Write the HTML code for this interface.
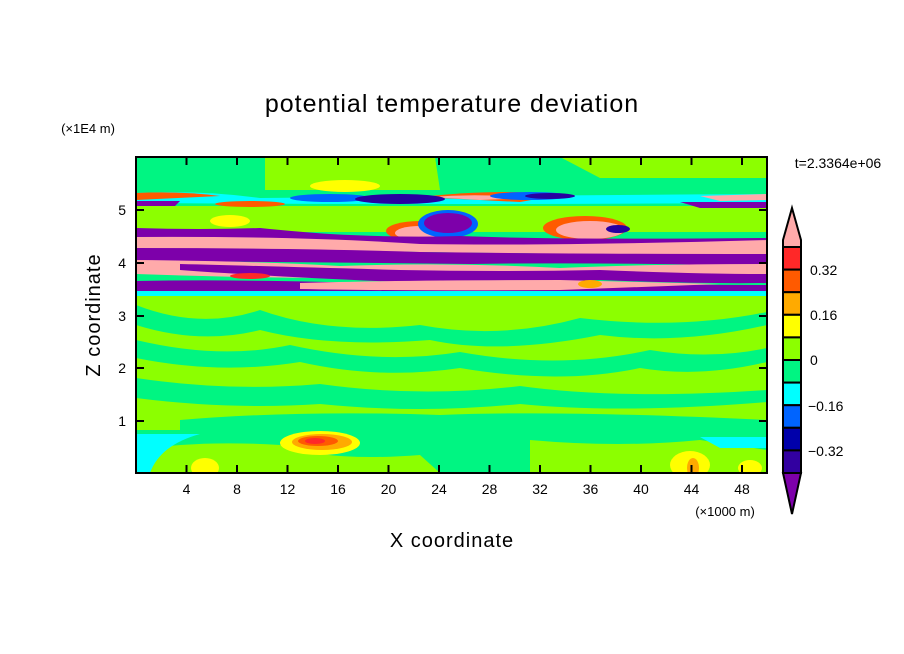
<!DOCTYPE html>
<html><head><style>body{margin:0;background:#fff}svg{display:block}</style></head><body>
<svg width="904" height="654" xmlns="http://www.w3.org/2000/svg" font-family="Liberation Sans, sans-serif">
<defs><clipPath id="c"><rect x="136" y="157" width="631" height="316"/></clipPath></defs>
<g clip-path="url(#c)">
<rect x="136" y="157" width="631" height="316" fill="#00F582"/>
<path d="M265 157 H435 L440 190 H265 Z" fill="#8CFF00"/>
<path d="M560 157 H767 V178 H600 Z" fill="#8CFF00"/>
<path d="M136 206 H767 V232 H136 Z" fill="#8CFF00"/>
<path d="M136 296 H767 V430 H136 Z" fill="#8CFF00"/>
<path d="M136 305 Q200 330 260 310 Q330 335 420 325 Q500 340 580 318 Q680 330 767 312 V325 Q680 345 600 335 Q500 355 430 340 Q330 348 260 330 Q200 345 136 325Z" fill="#00F582"/>
<path d="M136 340 Q220 360 290 345 Q380 365 460 352 Q560 370 650 350 Q710 360 767 348 V362 Q700 378 640 368 Q560 385 460 368 Q380 380 300 362 Q220 375 136 358Z" fill="#00F582"/>
<path d="M136 378 Q230 392 320 384 Q420 398 520 386 Q620 400 767 390 V402 Q620 414 520 404 Q420 414 320 404 Q230 410 136 398Z" fill="#00F582"/>
<path d="M180 420 Q300 410 440 415 Q560 410 767 420 V430 H180Z" fill="#00F582"/>
<path d="M136 432 H767 V473 H136Z" fill="#00F582"/>
<path d="M136 450 Q200 440 280 445 Q330 462 420 455 L440 473 H136Z" fill="#8CFF00"/>
<path d="M530 440 Q620 448 700 440 L767 450 V473 H530Z" fill="#8CFF00"/>
<path d="M136 434 H200 Q160 445 150 473 H136Z" fill="#00FFFF"/>
<path d="M700 437 H767 V448 H720Z" fill="#00FFFF"/>
<ellipse cx="320" cy="443" rx="40" ry="12" fill="#FFFF00"/>
<ellipse cx="322" cy="442" rx="30" ry="8" fill="#FFAA00"/>
<ellipse cx="318" cy="441" rx="20" ry="5" fill="#FF5A00"/>
<ellipse cx="315" cy="441" rx="10" ry="3" fill="#FF2828"/>
<ellipse cx="205" cy="468" rx="14" ry="10" fill="#FFFF00"/>
<ellipse cx="690" cy="465" rx="20" ry="14" fill="#FFFF00"/>
<ellipse cx="693" cy="468" rx="6" ry="10" fill="#FFAA00"/>
<ellipse cx="750" cy="468" rx="12" ry="8" fill="#FFFF00"/>
<ellipse cx="345" cy="186" rx="35" ry="6" fill="#FFFF00"/>
<path d="M136 193 Q200 190 260 198 Q450 196 767 194 V203 Q450 205 136 203Z" fill="#00FFFF"/>
<path d="M136 193 Q180 191 220 196 L136 200Z" fill="#FF5A00"/>
<path d="M420 197 Q500 188 560 195 L520 202 Z" fill="#FF5A00"/>
<path d="M430 197 Q480 193 530 198 L480 200Z" fill="#FFAAAA"/>
<path d="M700 196 L767 194 V200 L720 201Z" fill="#FFAAAA"/>
<ellipse cx="330" cy="198" rx="40" ry="4" fill="#0064FF"/>
<ellipse cx="400" cy="199" rx="45" ry="5" fill="#2800A0"/>
<ellipse cx="530" cy="196" rx="40" ry="4" fill="#0064FF"/>
<ellipse cx="550" cy="196" rx="25" ry="3" fill="#2800A0"/>
<path d="M136 201 H180 L175 206 H136Z" fill="#7D00AA"/>
<path d="M680 202 H767 V208 H700Z" fill="#7D00AA"/>
<ellipse cx="250" cy="204" rx="35" ry="3" fill="#FF5A00"/>
<ellipse cx="420" cy="231" rx="34" ry="10" fill="#FF5A00"/>
<ellipse cx="420" cy="233" rx="25" ry="7" fill="#FFAAAA"/>
<ellipse cx="448" cy="224" rx="30" ry="14" fill="#0064FF"/>
<ellipse cx="448" cy="223" rx="24" ry="10" fill="#7D00AA"/>
<ellipse cx="585" cy="228" rx="42" ry="12" fill="#FF5A00"/>
<ellipse cx="590" cy="230" rx="34" ry="9" fill="#FFAAAA"/>
<ellipse cx="618" cy="229" rx="12" ry="4" fill="#2800A0"/>
<ellipse cx="230" cy="221" rx="20" ry="6" fill="#FFFF00"/>
<path d="M136 228 Q200 230 260 228 Q300 232 330 234 Q400 238 460 236 Q560 240 767 238 V244 Q560 248 460 246 Q300 246 136 242Z" fill="#7D00AA"/>
<path d="M136 237 Q300 236 420 244 Q560 246 767 240 V256 Q560 254 420 252 Q300 250 136 249Z" fill="#FFAAAA"/>
<path d="M136 248 Q300 248 420 252 Q560 254 767 254 V266 Q600 262 470 264 Q300 262 136 261Z" fill="#7D00AA"/>
<path d="M136 260 Q250 261 340 266 Q450 262 560 268 Q650 264 767 264 V282 Q650 280 560 278 Q450 276 340 278 Q250 278 136 274Z" fill="#FFAAAA"/>
<path d="M180 264 Q260 266 400 270 Q500 272 600 270 Q700 274 767 274 V283 Q700 284 600 280 Q500 284 400 282 Q260 276 180 270Z" fill="#7D00AA"/>
<ellipse cx="250" cy="276" rx="20" ry="3" fill="#FF2828"/>
<path d="M136 281 Q250 279 400 284 Q560 284 767 285 V292 Q560 292 400 292 Q250 291 136 291Z" fill="#7D00AA"/>
<path d="M300 283 Q400 280 560 280 Q640 282 720 284 L560 290 Q400 291 300 289Z" fill="#FFAAAA"/>
<path d="M136 291 H767 V296 H136Z" fill="#00FFFF"/>
<ellipse cx="590" cy="284" rx="12" ry="4" fill="#FFAA00"/>
</g>
<rect x="136" y="157" width="631" height="316" fill="none" stroke="#000" stroke-width="2"/>
<g stroke="#000" stroke-width="2">
<path d="M186.5 473v-8M237 473v-8M287.5 473v-8M338 473v-8M388.5 473v-8M439 473v-8M489.5 473v-8M540 473v-8M590.5 473v-8M641 473v-8M691.5 473v-8M742 473v-8"/>
<path d="M186.5 157v8M237 157v8M287.5 157v8M338 157v8M388.5 157v8M439 157v8M489.5 157v8M540 157v8M590.5 157v8M641 157v8M691.5 157v8M742 157v8"/>
<path d="M136 421h8M136 368h8M136 316h8M136 263h8M136 210h8M767 421h-8M767 368h-8M767 316h-8M767 263h-8M767 210h-8"/>
</g>
<g font-size="14" text-anchor="middle" fill="#000">
<text x="186.5" y="494">4</text><text x="237" y="494">8</text><text x="287.5" y="494">12</text><text x="338" y="494">16</text><text x="388.5" y="494">20</text><text x="439" y="494">24</text><text x="489.5" y="494">28</text><text x="540" y="494">32</text><text x="590.5" y="494">36</text><text x="641" y="494">40</text><text x="691.5" y="494">44</text><text x="742" y="494">48</text>
</g>
<g font-size="14" text-anchor="end"><text x="126" y="426">1</text><text x="126" y="373">2</text><text x="126" y="321">3</text><text x="126" y="268">4</text><text x="126" y="215">5</text></g>
<text x="725" y="516" font-size="13" text-anchor="middle">(×1000 m)</text>
<text x="88" y="133" font-size="13" text-anchor="middle">(×1E4 m)</text>
<text x="452" y="112" font-size="25" text-anchor="middle" letter-spacing="1">potential temperature deviation</text>
<text x="452" y="547" font-size="20" text-anchor="middle" letter-spacing="1">X coordinate</text>
<text transform="translate(100,315) rotate(-90)" font-size="20" text-anchor="middle" letter-spacing="1">Z coordinate</text>
<text x="838" y="168" font-size="14" text-anchor="middle">t=2.3364e+06</text>
<g stroke="#000" stroke-width="2">
<path d="M792 208 L801 240 V247 H783 V240Z" fill="#FFAAAA"/>
<rect x="783" y="247" width="18" height="22.6" fill="#FF2828"/>
<rect x="783" y="269.6" width="18" height="22.6" fill="#FF5A00"/>
<rect x="783" y="292.2" width="18" height="22.6" fill="#FFAA00"/>
<rect x="783" y="314.8" width="18" height="22.6" fill="#FFFF00"/>
<rect x="783" y="337.4" width="18" height="22.6" fill="#8CFF00"/>
<rect x="783" y="360" width="18" height="22.6" fill="#00F582"/>
<rect x="783" y="382.6" width="18" height="22.6" fill="#00FFFF"/>
<rect x="783" y="405.2" width="18" height="22.6" fill="#0064FF"/>
<rect x="783" y="427.8" width="18" height="22.6" fill="#0000AA"/>
<rect x="783" y="450.4" width="18" height="22.6" fill="#3200A0"/>
<path d="M783 473 H801 L792 514Z" fill="#7D00AA"/>
</g>
<g font-size="14"><text x="810" y="275">0.32</text><text x="810" y="320">0.16</text><text x="810" y="365">0</text><text x="808" y="411">−0.16</text><text x="808" y="456">−0.32</text></g>
</svg>
</body></html>
